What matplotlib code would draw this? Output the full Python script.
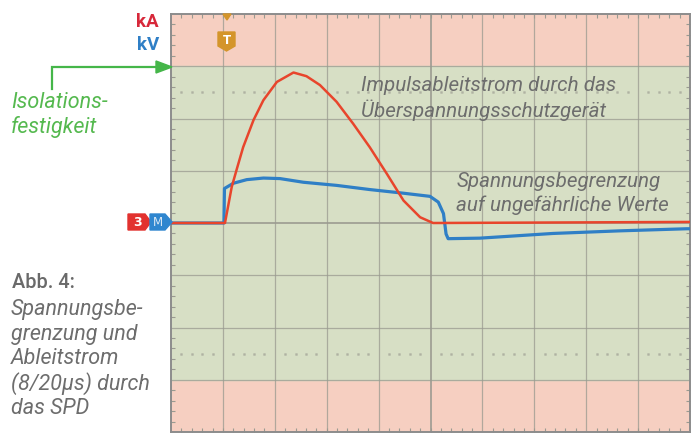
import numpy as np
import matplotlib
matplotlib.use("Agg")
import matplotlib.pyplot as plt
from matplotlib.patches import Polygon
from matplotlib.ticker import MultipleLocator

# oscilloscope traces, in screen divisions (x: 10 div, y: +-4 div)
strom_x = [0.0, 1.02, 1.04, 1.17, 1.27, 1.39, 1.59, 1.78, 2.04, 2.36, 2.61, 2.87,
           3.19, 3.51, 3.83, 4.16, 4.48, 4.80, 5.05, 7.5, 10.0]
strom_y = [0.0, 0.0, 0.0, 0.69, 1.04, 1.45, 1.97, 2.35, 2.70, 2.88, 2.81, 2.64,
           2.32, 1.90, 1.45, 0.94, 0.43, 0.11, 0.0, 0.01, 0.02]

spannung_x = [0.0, 1.02, 1.03, 1.20, 1.46, 1.78, 2.10, 2.55, 3.19, 3.83, 4.48,
              4.99, 5.15, 5.25, 5.30, 5.34, 5.95, 7.36, 8.65, 9.94, 10.0]
spannung_y = [0.0, 0.0, 0.66, 0.76, 0.83, 0.86, 0.85, 0.78, 0.72, 0.64, 0.57,
              0.51, 0.40, 0.18, -0.21, -0.30, -0.29, -0.20, -0.15, -0.11, -0.11]

pink = "#f6cfc1"
green = "#d7dfc5"
gridc = "#9a9a90"
red = "#e8452c"
blue = "#2f7fc6"
grey_txt = "#6d6d6d"
green_txt = "#55b94f"

fig = plt.figure(figsize=(6.95, 4.33), dpi=100)

ax = fig.add_axes([171 / 695, 1 / 433, 519 / 695, 418 / 433])
ax.set_xlim(0, 10)
ax.set_ylim(-4, 4)
ax.axhspan(3, 4, color=pink, zorder=0)
ax.axhspan(-4, -3, color=pink, zorder=0)
ax.axhspan(-3, 3, color=green, zorder=0)

for gx in range(1, 10):
    ax.axvline(gx, color=gridc, lw=1.3 if gx == 5 else 0.9, alpha=0.9 if gx == 5 else 0.75, zorder=1)
for gy in range(-3, 4):
    ax.axhline(gy, color=gridc, lw=1.3 if gy == 0 else 0.9, alpha=0.9 if gy == 0 else 0.75, zorder=1)

# dotted rows
dots = np.array([k * 0.2 for k in range(1, 50) if k % 5 != 0])
for gy in (2.5, -2.5):
    ax.plot(dots, np.full(len(dots), gy), ls="none", marker="s", ms=1.1,
            color=gridc, alpha=0.4, zorder=1)

ax.xaxis.set_minor_locator(MultipleLocator(0.2))
ax.yaxis.set_minor_locator(MultipleLocator(0.2))
ax.tick_params(which="both", direction="in", top=True, right=True,
               labelbottom=False, labelleft=False)
ax.tick_params(which="major", length=0)
ax.tick_params(which="minor", length=3, width=0.8, color=gridc)
for s in ax.spines.values():
    s.set_color("#8c8c8c")
    s.set_linewidth(1.4)

ax.plot(spannung_x, spannung_y, color=blue, lw=2.3, zorder=3, solid_joinstyle="round")
ax.plot(strom_x, strom_y, color=red, lw=1.8, zorder=4, solid_joinstyle="round")

txt = dict(color=grey_txt, style="italic", family="Roboto", fontweight="normal",
           fontsize=14.9, va="center", ha="left")
ax.text(3.67, 2.64, "Impulsableitstrom durch das", **txt)
ax.text(3.67, 2.15, "Überspannungsschutzgerät", **txt)
ax.text(5.50, 0.80, "Spannungsbegrenzung", **txt)
ax.text(5.50, 0.34, "auf ungefährliche Werte", **txt)

# overlay in pixel coordinates for the labels around the screen
ov = fig.add_axes([0, 0, 1, 1], zorder=5)
ov.set_xlim(0, 695)
ov.set_ylim(433, 0)
ov.axis("off")
ov.patch.set_alpha(0)

ov.text(159, 22, "kA", color="#d7283a", fontsize=13.5, fontweight="bold",
        family="Roboto", ha="right", va="center")
ov.text(159, 45, "kV", color="#2f7fc6", fontsize=13.5, fontweight="bold",
        family="Roboto", ha="right", va="center")

# green arrow
ov.plot([52, 52, 158], [89, 67, 67], color="#45b649", lw=1.6, solid_joinstyle="miter")
ov.add_patch(Polygon([[156, 61], [172, 67], [156, 73]], closed=True, color="#45b649"))
g = dict(color=green_txt, style="italic", family="Roboto", fontweight="normal",
         fontsize=15.5, va="center", ha="left")
ov.text(11, 102, "Isolations-", **g)
ov.text(11, 127, "festigkeit", **g)

ov.text(12, 282, "Abb. 4:", color="#6a6a6a", fontsize=14.3, family="Roboto",
        fontweight="medium", va="center", ha="left")
cap = ["Spannungsbe-", "grenzung und", "Ableitstrom", "(8/20µs) durch", "das SPD"]
for i, line in enumerate(cap):
    ov.text(11, 310 + i * 24.5, line, color="#6d6d6d", style="italic", family="Roboto",
            fontweight="normal", fontsize=15.5, va="center", ha="left")

# channel tags
ov.add_patch(Polygon([[128, 214], [145, 214], [151, 222], [145, 230], [128, 230]],
                     closed=True, color="#e2322f"))
ov.text(137, 222.5, "3", color="white", fontsize=9, fontweight="bold", ha="center", va="center")
ov.add_patch(Polygon([[150, 214], [165, 214], [172, 222], [165, 230], [150, 230]],
                     closed=True, color="#2f86cf"))
ov.text(158, 222.5, "M", color="#d9e8f5", fontsize=8.5, ha="center", va="center")

# trigger tag
ov.add_patch(Polygon([[218, 32], [235, 32], [235, 46], [226.5, 51], [218, 46]],
                     closed=True, color="#d4952b"))
ov.text(226.5, 40, "T", color="white", fontsize=8.5, fontweight="bold", ha="center", va="center")
ov.add_patch(Polygon([[223, 14], [231, 14], [227, 20]], closed=True, color="#d4952b"))

fig.savefig("out.png", dpi=100)
